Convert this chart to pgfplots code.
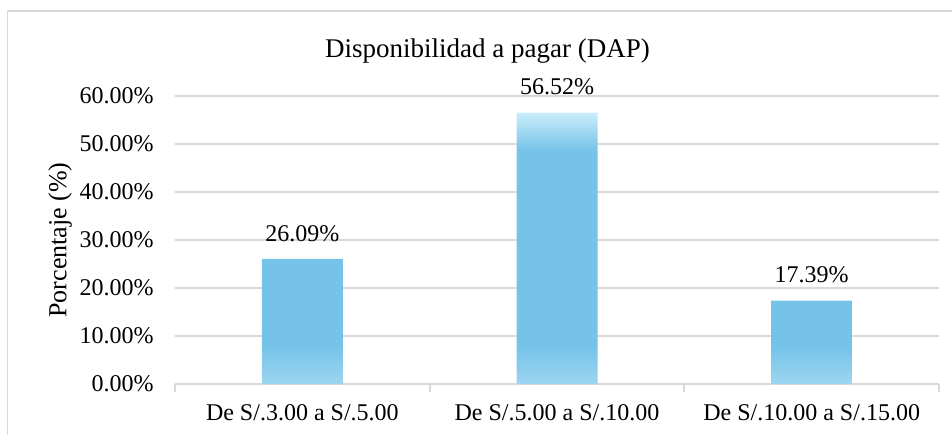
\documentclass[border=0pt]{standalone}
\usepackage{fontspec}
\setmainfont{Liberation Serif}
\usepackage{pgfplots}
\pgfplotsset{compat=1.18}
\definecolor{barmain}{HTML}{75C3E8}
\definecolor{bartop}{HTML}{CAEDFB}
\definecolor{barbot}{HTML}{9DD5F0}
\definecolor{gridgray}{HTML}{D9D9D9}
\pgfdeclareverticalshading{barshade}{100bp}{color(0bp)=(barbot); color(25bp)=(barbot); color(32bp)=(barmain); color(68bp)=(barmain); color(75bp)=(bartop); color(100bp)=(bartop)}
\begin{document}
\fontsize{12bp}{14bp}\selectfont
\begin{tikzpicture}[font=\fontsize{12bp}{14bp}\selectfont]
\useasboundingbox (0,0) rectangle (476bp,217.5bp);
\draw[gridgray, line width=0.8bp] (3.75bp,0) -- (3.75bp,212bp) -- (476bp,212bp);
\node[anchor=base, inner sep=0pt, font=\fontsize{13.5bp}{16bp}\selectfont] at (243.75bp,188.5bp) {Disponibilidad a pagar (DAP)};
\begin{axis}[
  at={(87.5bp,25.5bp)}, anchor=south west,
  scale only axis, width=382bp, height=144bp,
  xmin=-0.5, xmax=2.5, ymin=0, ymax=60,
  clip=false,
  axis x line*=bottom, axis y line*=left,
  x axis line style={gridgray, line width=0.9bp, -},
  y axis line style={draw=none},
  xtick={0,1,2},
  xticklabels={De S/.3.00 a S/.5.00, De S/.5.00 a S/.10.00, De S/.10.00 a S/.15.00},
  x tick label style={yshift=-6bp},
  extra x ticks={-0.5,0.5,1.5,2.5},
  extra x tick labels={},
  extra x tick style={major tick length=4bp, tick align=outside, major tick style={gridgray, line width=0.9bp}},
  ytick={0,10,...,60},
  yticklabel={\pgfmathprintnumber[fixed,fixed zerofill,precision=2]{\tick}\%},
  /pgf/number format/assume math mode=true,
  y tick label style={xshift=-6.5bp},
  major tick length=0pt,
  ymajorgrids, grid style={gridgray, line width=0.9bp},
  ylabel={Porcentaje (\%)},
  ylabel style={at={(axis description cs:-0.1505,0.5)}, anchor=center, rotate=0, font=\fontsize{13bp}{15bp}\selectfont},
  tick label style={font=\fontsize{12bp}{14bp}\selectfont},
]
\addplot[ybar, bar width=40.5bp, draw=none, shading=barshade,
  nodes near coords={\pgfmathprintnumber[fixed,fixed zerofill,precision=2]{\pgfplotspointmeta}\%},
  nodes near coords style={font=\fontsize{12bp}{14bp}\selectfont, anchor=south, yshift=4.5bp, black}]
  coordinates {(0,26.09) (1,56.52) (2,17.39)};
\end{axis}
\end{tikzpicture}
\end{document}
